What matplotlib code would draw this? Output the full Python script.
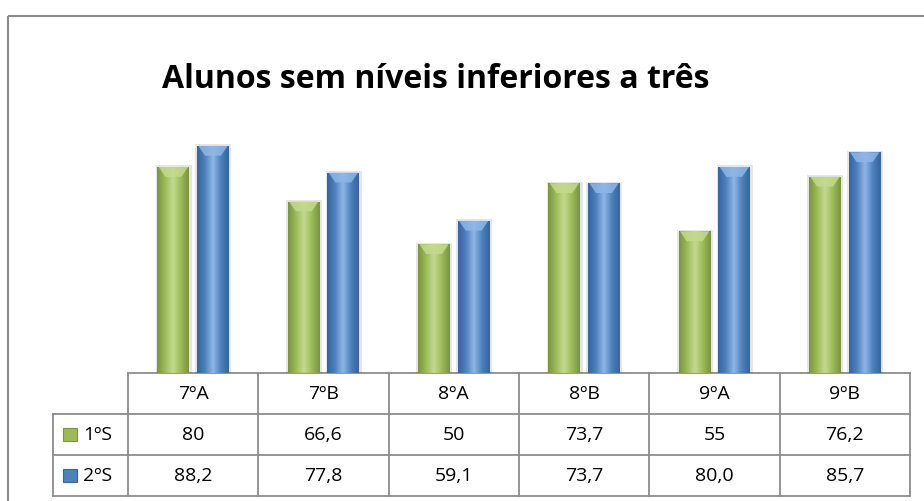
import numpy as np
import matplotlib.pyplot as plt
from matplotlib.colors import LinearSegmentedColormap
from matplotlib.patches import Rectangle, Polygon

plt.rcParams['font.family'] = ['Open Sans', 'DejaVu Sans']

# -------------- data (as written in the data table)
turmas = ['7ºA', '7ºB', '8ºA', '8ºB', '9ºA', '9ºB']
series = ['1ºS', '2ºS']
s1_txt = ['80', '66,6', '50', '73,7', '55', '76,2']
s2_txt = ['88,2', '77,8', '59,1', '73,7', '80,0', '85,7']
title = 'Alunos sem níveis inferiores a três'

# dark edge, light highlight, base colour
colors = {'1ºS': ('#7a9443', '#c4da8f', '#9bbb59'),
          '2ºS': ('#36649e', '#8fb7e6', '#4f81bd')}


def to_num(lst):
    return [float(s.replace(',', '.')) for s in lst]


W, H = 924, 502
fig = plt.figure(figsize=(W / 100, H / 100), dpi=100, facecolor='white')
bg = fig.add_axes([0, 0, 1, 1])
bg.set_xlim(0, W)
bg.set_ylim(H, 0)
bg.axis('off')

# -------------- layout in pixels
tx0, tx1 = 128, 910
lx0 = 53
rows = [374, 415, 456, 497]
ytop = 116.5
lc = '#8c8c8c'

# outer chart border
bg.add_patch(Rectangle((8, 17), W, H, fill=False, edgecolor='#8a8a8a', lw=1.5))
bg.text(436, 80, title, ha='center', va='center', fontsize=23, fontweight='bold')

# -------------- bars
ax = fig.add_axes([tx0 / W, 1 - rows[0] / H, (tx1 - tx0) / W, (rows[0] - ytop) / H])
ax.axis('off')
x = np.arange(len(turmas))
bw, off = 0.245, 0.152
for i, (name, txt) in enumerate(zip(series, [s1_txt, s2_txt])):
    dark, light, base = colors[name]
    cmap = LinearSegmentedColormap.from_list(name, [dark, base, light, base, dark])
    bars = ax.bar(x + (2 * i - 1) * off, to_num(txt), bw, color=base, edgecolor='none', zorder=1)
    for b in bars:
        bx, bwid, bh = b.get_x(), b.get_width(), b.get_height()
        ax.add_patch(Rectangle((bx - 0.012, 0), bwid + 0.03, bh + 0.6, color='black',
                               alpha=0.1, lw=0, zorder=0.5))
        im = ax.imshow(np.linspace(0, 1, 64)[None, :], cmap=cmap, extent=(bx, bx + bwid, 0, bh),
                       aspect='auto', zorder=2)
        im.set_clip_path(b)
        cap = 3.8
        ax.add_patch(Polygon([(bx + 0.01, bh), (bx + bwid - 0.01, bh), (bx + bwid * 0.75, bh - cap),
                              (bx + bwid * 0.25, bh - cap)], color=light, alpha=0.85, lw=0, zorder=3))
ax.set_xlim(-0.5, 5.5)
ax.set_ylim(0, 100)

# -------------- data table
colw = (tx1 - tx0) / len(turmas)
bg.plot([tx0, tx1], [rows[0]] * 2, color=lc, lw=1.3)
for y in rows[1:]:
    bg.plot([lx0, tx1], [y, y], color=lc, lw=1.3)
bg.plot([lx0, lx0], [rows[1], rows[3]], color=lc, lw=1.3)
for k in range(len(turmas) + 1):
    xk = tx0 + k * colw
    bg.plot([xk, xk], [rows[0], rows[3]], color=lc, lw=1.3)

for k, t in enumerate(turmas):
    bg.text(tx0 + (k + 0.5) * colw, (rows[0] + rows[1]) / 2, t, ha='center', va='center', fontsize=14)
for r, (name, txt) in enumerate(zip(series, [s1_txt, s2_txt])):
    yc = (rows[r + 1] + rows[r + 2]) / 2
    dark, light, base = colors[name]
    bg.add_patch(Rectangle((63, yc - 6.5), 14, 13, facecolor=base, edgecolor=dark, lw=0.8))
    bg.text(83, yc, name, ha='left', va='center', fontsize=14)
    for k, s in enumerate(txt):
        bg.text(tx0 + (k + 0.5) * colw, yc, s, ha='center', va='center', fontsize=14)

fig.savefig('out.png', dpi=100, facecolor='white')
